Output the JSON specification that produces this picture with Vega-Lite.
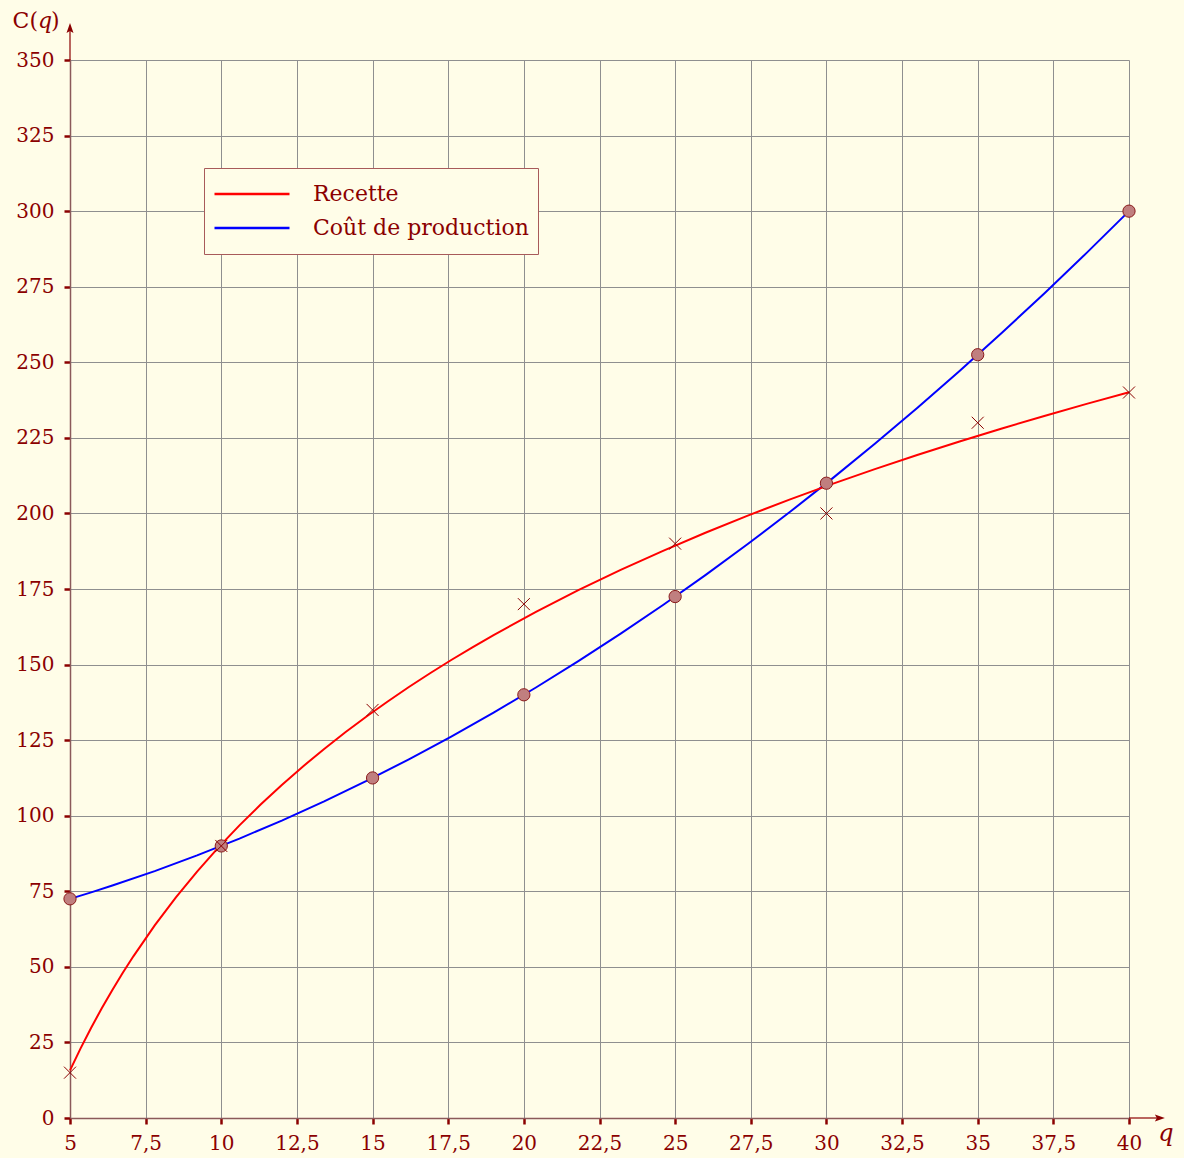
{
  "$schema": "https://vega.github.io/schema/vega-lite/v6.json",
  "width": 1059,
  "height": 1058,
  "autosize": {"type": "none"},
  "padding": {"left": 70, "top": 60, "right": 55, "bottom": 40},
  "background": "#fffde8",
  "datasets": {
    "recette": [
      {"q": 5, "v": 15}, {"q": 10, "v": 90}, {"q": 15, "v": 135}, {"q": 20, "v": 170},
      {"q": 25, "v": 190}, {"q": 30, "v": 200}, {"q": 35, "v": 230}, {"q": 40, "v": 240}
    ],
    "cout": [
      {"q": 5, "v": 72.5}, {"q": 10, "v": 90}, {"q": 15, "v": 112.5}, {"q": 20, "v": 140},
      {"q": 25, "v": 172.5}, {"q": 30, "v": 210}, {"q": 35, "v": 252.5}, {"q": 40, "v": 300}
    ]
  },
  "layer": [
    {
      "data": {"name": "cout"},
      "transform": [{"regression": "v", "on": "q", "method": "poly", "order": 2}],
      "mark": {"type": "line", "strokeWidth": 2},
      "encoding": {
        "x": {"field": "q", "type": "quantitative", "title": null,
              "scale": {"domain": [5, 40], "nice": false, "zero": false},
              "axis": {"values": [5, 7.5, 10, 12.5, 15, 17.5, 20, 22.5, 25, 27.5, 30, 32.5, 35, 37.5, 40],
                       "labelExpr": "replace(toString(datum.value), '.', ',')"}},
        "y": {"field": "v", "type": "quantitative", "title": null,
              "scale": {"domain": [0, 350], "nice": false, "zero": false},
              "axis": {"values": [0, 25, 50, 75, 100, 125, 150, 175, 200, 225, 250, 275, 300, 325, 350]}},
        "color": {"datum": "Coût de production",
                  "scale": {"domain": ["Recette", "Coût de production"], "range": ["#ff0000", "#0000ff"]},
                  "legend": {"title": null, "orient": "none", "legendX": 134, "legendY": 108}}
      }
    },
    {
      "data": {"name": "recette"},
      "transform": [{"regression": "v", "on": "q", "method": "log"}],
      "mark": {"type": "line", "strokeWidth": 2},
      "encoding": {
        "x": {"field": "q", "type": "quantitative", "title": null, "scale": {"domain": [5, 40], "nice": false, "zero": false}},
        "y": {"field": "v", "type": "quantitative", "title": null, "scale": {"domain": [0, 350], "nice": false, "zero": false}},
        "color": {"datum": "Recette"}
      }
    },
    {
      "data": {"name": "cout"},
      "mark": {"type": "point", "shape": "circle", "filled": true, "fill": "#c07f7f", "stroke": "#8b1a1a", "strokeWidth": 1, "size": 150, "opacity": 1},
      "encoding": {
        "x": {"field": "q", "type": "quantitative", "title": null, "scale": {"domain": [5, 40], "nice": false, "zero": false}},
        "y": {"field": "v", "type": "quantitative", "title": null, "scale": {"domain": [0, 350], "nice": false, "zero": false}}
      }
    },
    {
      "data": {"name": "recette"},
      "mark": {"type": "point", "shape": "M-1,-1L1,1M-1,1L1,-1", "filled": false, "stroke": "#8b0000", "strokeWidth": 1, "size": 144, "opacity": 1},
      "encoding": {
        "x": {"field": "q", "type": "quantitative", "title": null, "scale": {"domain": [5, 40], "nice": false, "zero": false}},
        "y": {"field": "v", "type": "quantitative", "title": null, "scale": {"domain": [0, 350], "nice": false, "zero": false}}
      }
    },
    {
      "data": {"values": [{}]},
      "mark": {"type": "rule", "color": "#8b0000", "strokeWidth": 1.2},
      "encoding": {
        "x": {"datum": 5, "type": "quantitative", "title": null, "scale": {"domain": [5, 40], "nice": false, "zero": false}},
        "y": {"datum": 350, "type": "quantitative", "title": null, "scale": {"domain": [0, 350], "nice": false, "zero": false}},
        "y2": {"datum": 360}
      }
    },
    {
      "data": {"values": [{}]},
      "mark": {"type": "rule", "color": "#8b0000", "strokeWidth": 1.2},
      "encoding": {
        "x": {"datum": 40, "type": "quantitative", "title": null, "scale": {"domain": [5, 40], "nice": false, "zero": false}},
        "x2": {"datum": 40.95},
        "y": {"datum": 0, "type": "quantitative", "title": null, "scale": {"domain": [0, 350], "nice": false, "zero": false}}
      }
    },
    {
      "data": {"values": [{}]},
      "mark": {"type": "point", "shape": "M0,-1L0.7,1L0,0.6L-0.7,1Z", "filled": true, "fill": "#8b0000", "strokeWidth": 0, "size": 100, "opacity": 1},
      "encoding": {
        "x": {"datum": 5, "type": "quantitative", "title": null, "scale": {"domain": [5, 40], "nice": false, "zero": false}},
        "y": {"datum": 360.6, "type": "quantitative", "title": null, "scale": {"domain": [0, 350], "nice": false, "zero": false}}
      }
    },
    {
      "data": {"values": [{}]},
      "mark": {"type": "point", "shape": "M1,0L-1,0.7L-0.6,0L-1,-0.7Z", "filled": true, "fill": "#8b0000", "strokeWidth": 0, "size": 100, "opacity": 1},
      "encoding": {
        "x": {"datum": 41.02, "type": "quantitative", "title": null, "scale": {"domain": [5, 40], "nice": false, "zero": false}},
        "y": {"datum": 0, "type": "quantitative", "title": null, "scale": {"domain": [0, 350], "nice": false, "zero": false}}
      }
    },
    {
      "data": {"values": [{}]},
      "mark": {"type": "text", "text": "C(", "align": "right", "baseline": "alphabetic", "dx": -32, "dy": -32, "font": "DejaVu Serif", "fontSize": 22, "color": "#8b0000"},
      "encoding": {
        "x": {"datum": 5, "type": "quantitative", "title": null, "scale": {"domain": [5, 40], "nice": false, "zero": false}},
        "y": {"datum": 350, "type": "quantitative", "title": null, "scale": {"domain": [0, 350], "nice": false, "zero": false}}
      }
    },
    {
      "data": {"values": [{}]},
      "mark": {"type": "text", "text": "q", "align": "center", "baseline": "alphabetic", "dx": -25, "dy": -32, "font": "DejaVu Serif", "fontStyle": "italic", "fontSize": 22, "color": "#8b0000"},
      "encoding": {
        "x": {"datum": 5, "type": "quantitative", "title": null, "scale": {"domain": [5, 40], "nice": false, "zero": false}},
        "y": {"datum": 350, "type": "quantitative", "title": null, "scale": {"domain": [0, 350], "nice": false, "zero": false}}
      }
    },
    {
      "data": {"values": [{}]},
      "mark": {"type": "text", "text": ")", "align": "left", "baseline": "alphabetic", "dx": -19, "dy": -32, "font": "DejaVu Serif", "fontSize": 22, "color": "#8b0000"},
      "encoding": {
        "x": {"datum": 5, "type": "quantitative", "title": null, "scale": {"domain": [5, 40], "nice": false, "zero": false}},
        "y": {"datum": 350, "type": "quantitative", "title": null, "scale": {"domain": [0, 350], "nice": false, "zero": false}}
      }
    },
    {
      "data": {"values": [{}]},
      "mark": {"type": "text", "text": "q", "align": "center", "baseline": "alphabetic", "dx": 37, "dy": 23, "font": "DejaVu Serif", "fontStyle": "italic", "fontSize": 24, "color": "#8b0000"},
      "encoding": {
        "x": {"datum": 40, "type": "quantitative", "title": null, "scale": {"domain": [5, 40], "nice": false, "zero": false}},
        "y": {"datum": 0, "type": "quantitative", "title": null, "scale": {"domain": [0, 350], "nice": false, "zero": false}}
      }
    }
  ],
  "config": {
    "view": {"stroke": null},
    "axis": {
      "grid": true,
      "gridColor": "#8f8f8f",
      "gridWidth": 1,
      "gridOpacity": 1,
      "domainColor": "#8b5a5a",
      "domainWidth": 1.5,
      "tickColor": "#8b0000",
      "tickWidth": 2.5,
      "tickSize": 6,
      "labelFont": "DejaVu Serif",
      "labelFontSize": 20,
      "labelColor": "#8b0000",
      "labelOverlap": false,
      "labelFlush": false
    },
    "axisX": {"labelPadding": 9},
    "axisY": {"labelPadding": 10},
    "legend": {
      "symbolType": "stroke",
      "symbolSize": 5625,
      "symbolStrokeWidth": 2.5,
      "labelFont": "DejaVu Serif",
      "labelFontSize": 22,
      "labelColor": "#8b0000",
      "labelOffset": 22,
      "labelLimit": 500,
      "clipHeight": 34,
      "rowPadding": 0,
      "padding": 9,
      "strokeColor": "#a85a5a",
      "fillColor": "#fffde8",
      "cornerRadius": 0
    }
  }
}
